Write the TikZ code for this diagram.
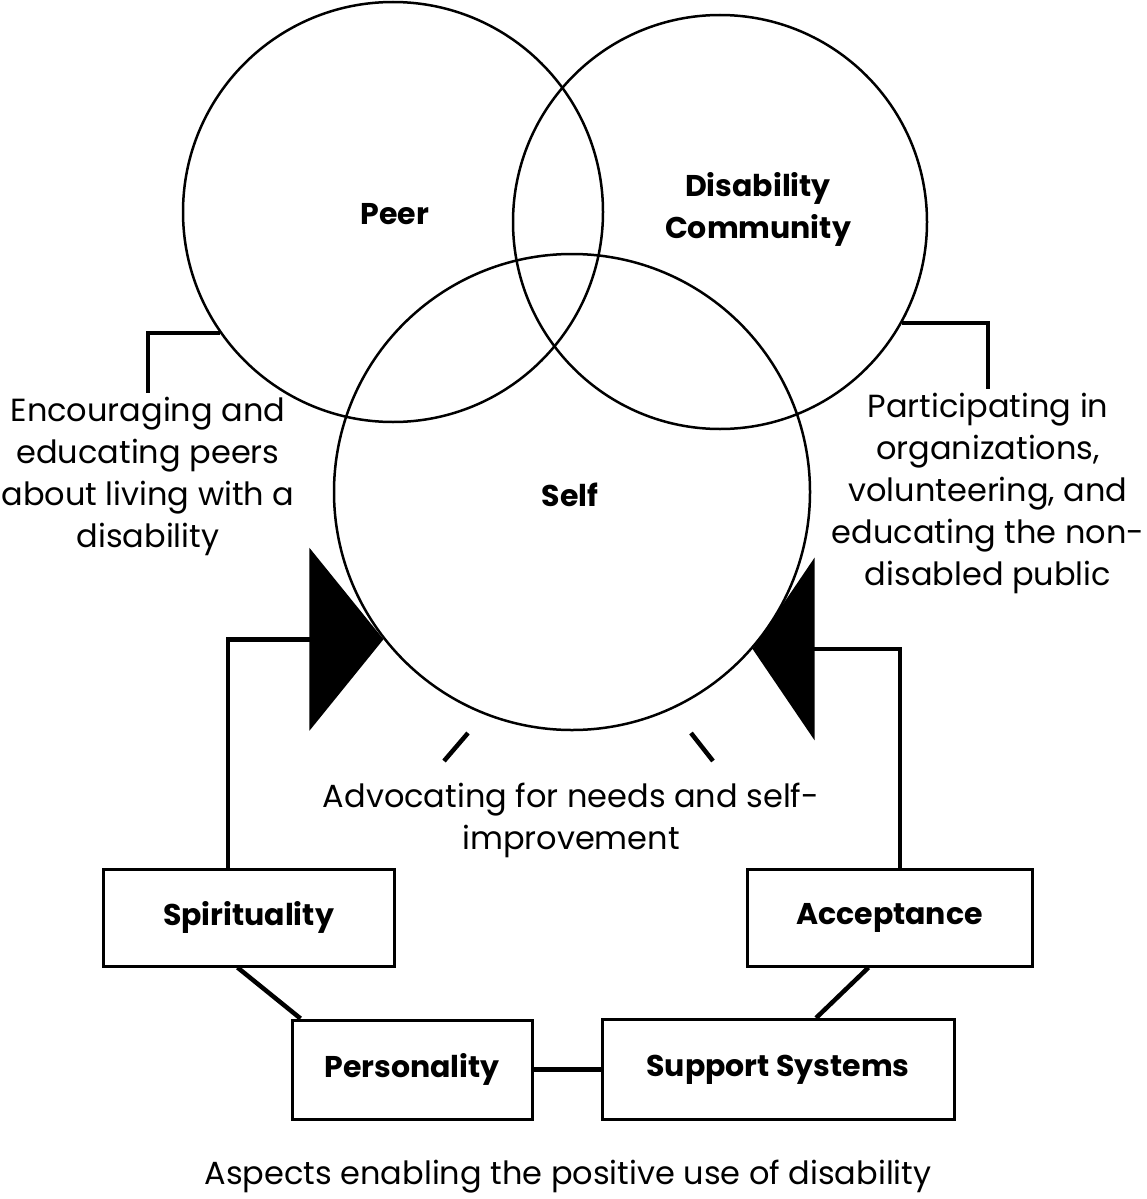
\documentclass[tikz,border=0pt]{standalone}
\usepackage{fontspec}
\setmainfont{Poppins}
\usetikzlibrary{calc,arrows.meta}

\tikzset{
  ring/.style={draw,circle,line width=2.5pt,inner sep=0pt},
  title/.style={align=center,inner sep=0pt,font=\fontsize{30}{42}\selectfont\bfseries},
  aspect/.style={draw,rectangle,line width=3pt,inner sep=0pt,font=\fontsize{30}{34}\selectfont\bfseries},
  note/.style={align=center,inner sep=0pt,font=\fontsize{32}{42}\selectfont},
  link/.style={line width=4.5pt},
  push/.style={link,-{Triangle[length=#1,width=182pt]}}
}

\begin{document}
\begin{tikzpicture}[x=1pt,y=-1pt]
   \useasboundingbox (0,0) rectangle (1147,1199);

   \node[ring,minimum size=420pt] (Peer) at(393,212) {};
   \node[ring,minimum size=414pt] (Comm) at(720,222) {};
   \node[ring,minimum size=476pt] (Self) at(572,492) {};

   \node[title] (PeerTxt) at(395,214) {Peer};
   \node[title] (CommTxt) at(758,209) {Disability\\Community};
   \node[title] (SelfTxt) at(570,495) {Self};

   \node[note,anchor=north,inner ysep=4pt] (PeerNote) at(148,393)
        {Encouraging and\\educating peers\\about living with a\\disability};
   \node[note,anchor=north,inner ysep=4pt] (CommNote) at(988,389)
        {Participating in\\organizations,\\volunteering, and\\educating the non-\\disabled public};
   \node[note] (SelfNote) at(571,820) {Advocating for needs and self-\\improvement};

   \node[aspect,minimum width=291pt,minimum height=97pt] (Spir) at(248.5,917.5) {Spirituality};
   \node[aspect,minimum width=285pt,minimum height=97pt] (Acc) at(889.5,917.5) {Acceptance};
   \node[aspect,minimum width=240pt,minimum height=99pt] (Pers) at(412,1069.5) {Personality};
   \node[aspect,minimum width=352pt,minimum height=100pt] (Supp) at(778,1069.5) {Support Systems};

   \node[note] (Caption) at(568,1177) {Aspects enabling the positive use of disability};

   \draw[link] (Peer.215) -| (PeerNote.north);
   \draw[link] (Comm.331) -| (CommNote.north);
   \draw[link] (444,761) -- (468,733);
   \draw[link] (691,733) -- (713,761);

   \draw[link] ([xshift=-11pt]Spir.south) -- ([xshift=10pt]Pers.north west);
   \draw[link] ([xshift=-21pt]Acc.south) -- ([xshift=38pt]Supp.north);
   \draw[link] (Pers.east) -- (Supp.west);

   \draw[push=74pt] ([xshift=-20.5pt]Spir.north) |- (Self.218);
   \draw[push=62pt] ([xshift=10.5pt]Acc.north) |- (Self.319);
\end{tikzpicture}
\end{document}
